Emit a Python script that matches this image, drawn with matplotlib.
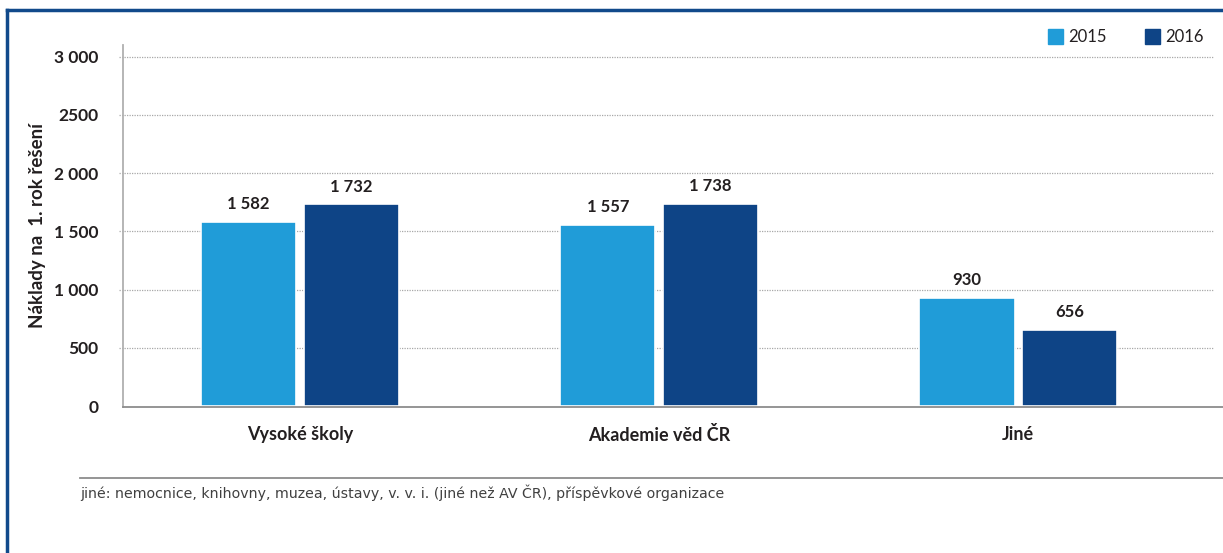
import matplotlib.pyplot as plt
import numpy as np
from matplotlib.lines import Line2D
from matplotlib.patches import Rectangle

plt.rcParams['font.family'] = ['Lato', 'DejaVu Sans']

categories = ['Vysoké školy', 'Akademie věd ČR', 'Jiné']
years = ['2015', '2016']
v2015 = [1582, 1557, 930]
v2016 = [1732, 1738, 656]
yticks = [0, 500, 1000, 1500, 2000, 2500, 3000]
ytick_labels = ['0', '500', '1 000', '1 500', '2 000', '2500', '3 000']
value_labels_2015 = ['1 582', '1 557', '930']
value_labels_2016 = ['1 732', '1 738', '656']
footnote = 'jiné: nemocnice, knihovny, muzea, ústavy, v. v. i. (jiné než AV ČR), příspěvkové organizace'

c15 = '#209cd8'
c16 = '#0e4486'
txt = '#231f20'
W, H = 1223, 553

fig = plt.figure(figsize=(W / 100, H / 100), dpi=100)
ax = fig.add_axes([123 / W, 1 - 407 / H, (1223 - 123) / W, (407 - 45) / H])

x = np.arange(len(categories))
bw = 0.265
off = 0.143
ax.bar(x - off, v2015, bw, color=c15, edgecolor='white', linewidth=1.2, zorder=3)
ax.bar(x + off, v2016, bw, color=c16, edgecolor='white', linewidth=1.2, zorder=3)

for xi, v, t in zip(x - off, v2015, value_labels_2015):
    ax.text(xi, v + 80, t, ha='center', va='bottom', fontsize=12, fontweight='bold', color=txt)
for xi, v, t in zip(x + off, v2016, value_labels_2016):
    ax.text(xi, v + 80, t, ha='center', va='bottom', fontsize=12, fontweight='bold', color=txt)

ax.set_xlim(-0.493, 2.57)
ax.set_ylim(-8, 3100)
ax.set_yticks(yticks)
ax.set_yticklabels(ytick_labels, fontsize=12.5, fontweight='bold', color=txt)
ax.set_xticks(x)
ax.set_xticklabels(categories, fontsize=13, fontweight='bold', color=txt)
ax.tick_params(axis='y', length=0, pad=17.5)
ax.tick_params(axis='x', length=0, pad=14)
for yv in yticks[1:]:
    ax.plot([-0.505, 2.545], [yv, yv], ls=(0, (1, 1)), color='#a8a8a8', lw=0.9, zorder=1, clip_on=False)

for s in ['top', 'right', 'bottom']:
    ax.spines[s].set_visible(False)
ax.spines['left'].set_color('#b0b0b0')
ax.spines['left'].set_linewidth(1.3)

ax.set_ylabel('Náklady na  1. rok řešení', fontsize=13.5, fontweight='bold', color=txt, labelpad=6)

# bottom axis line runs to the right edge
fig.add_artist(Line2D([123 / W, 1.0], [1 - 407 / H] * 2, color='#8c8c8c', lw=1.3))
# footnote separator
fig.add_artist(Line2D([80 / W, 1.0], [1 - 478 / H] * 2, color='#8c8c8c', lw=1.3))
fig.text(80 / W, 1 - 493 / H, footnote, fontsize=10.2, color='#404040', va='center',
         family=['Liberation Sans Narrow', 'DejaVu Sans'])

# frame
fig.add_artist(Line2D([7 / W, 1.0], [1 - 10 / H] * 2, color='#114a8b', lw=2.5))
fig.add_artist(Line2D([7 / W, 7 / W], [1 - 10 / H, 0], color='#114a8b', lw=2.5))

# legend
for sx, lab, c in [(1048, years[0], c15), (1145, years[1], c16)]:
    fig.add_artist(Rectangle((sx / W, 1 - 44 / H), 15 / W, 15 / H, color=c, transform=fig.transFigure))
    fig.text((sx + 20) / W, 1 - 36.5 / H, lab, fontsize=12, color=txt, va='center')

fig.savefig('out.png', dpi=100)
